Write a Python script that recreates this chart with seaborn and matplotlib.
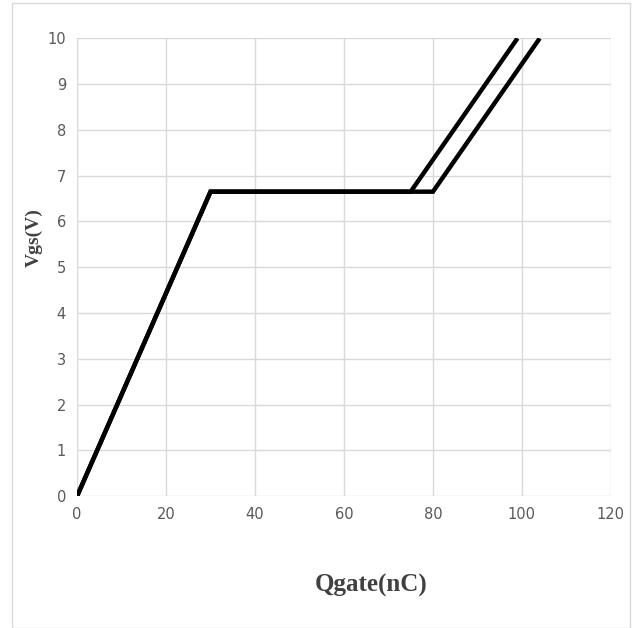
import pandas as pd
import seaborn as sns
import matplotlib.pyplot as plt
from matplotlib.patches import Rectangle

# gate charge curves (two cases)
qgate_a = [0, 30, 75, 99]
vgs_a = [0, 6.65, 6.65, 10]
qgate_b = [0, 30, 80, 104]
vgs_b = [0, 6.65, 6.65, 10]

x_ticks = [0, 20, 40, 60, 80, 100, 120]
y_ticks = list(range(0, 11))

df = pd.concat([
    pd.DataFrame({'Qgate': qgate_a, 'Vgs': vgs_a, 'curve': 'a'}),
    pd.DataFrame({'Qgate': qgate_b, 'Vgs': vgs_b, 'curve': 'b'}),
])

sns.set_style("white")
fig = plt.figure(figsize=(6.37, 6.28), dpi=100)
ax = fig.add_axes([0.121, 0.210, 0.838, 0.729])

sns.lineplot(data=df, x='Qgate', y='Vgs', hue='curve', palette=['black', 'black'],
             sort=False, estimator=None, linewidth=3.2, legend=False, ax=ax,
             solid_capstyle='butt', solid_joinstyle='miter')

ax.set_xlim(0, 120)
ax.set_ylim(0, 10)
ax.set_xticks(x_ticks)
ax.set_yticks(y_ticks)
ax.grid(True, color='#d9d9d9', linewidth=1)
ax.set_axisbelow(True)
for s in ax.spines.values():
    s.set_visible(False)
ax.tick_params(axis='both', length=0, labelsize=10.5, labelcolor='#595959', pad=8)

ax.set_xlabel('')
ax.set_ylabel('')
fig.text(0.583, 0.067, 'Qgate(nC)', ha='center', va='center', family='Liberation Serif',
         fontweight='bold', fontsize=18, color='#404040')
fig.text(0.054, 0.621, 'Vgs(V)', ha='center', va='center', rotation=90,
         family='Liberation Serif', fontweight='bold', fontsize=14, color='#404040')

# outer chart frame
fig.patches.append(Rectangle((12 / 637, 0.0), 618 / 637, 1 - 3 / 628, transform=fig.transFigure,
                             fill=False, edgecolor='#d9d9d9', linewidth=1))

fig.savefig('out.png', dpi=100)
